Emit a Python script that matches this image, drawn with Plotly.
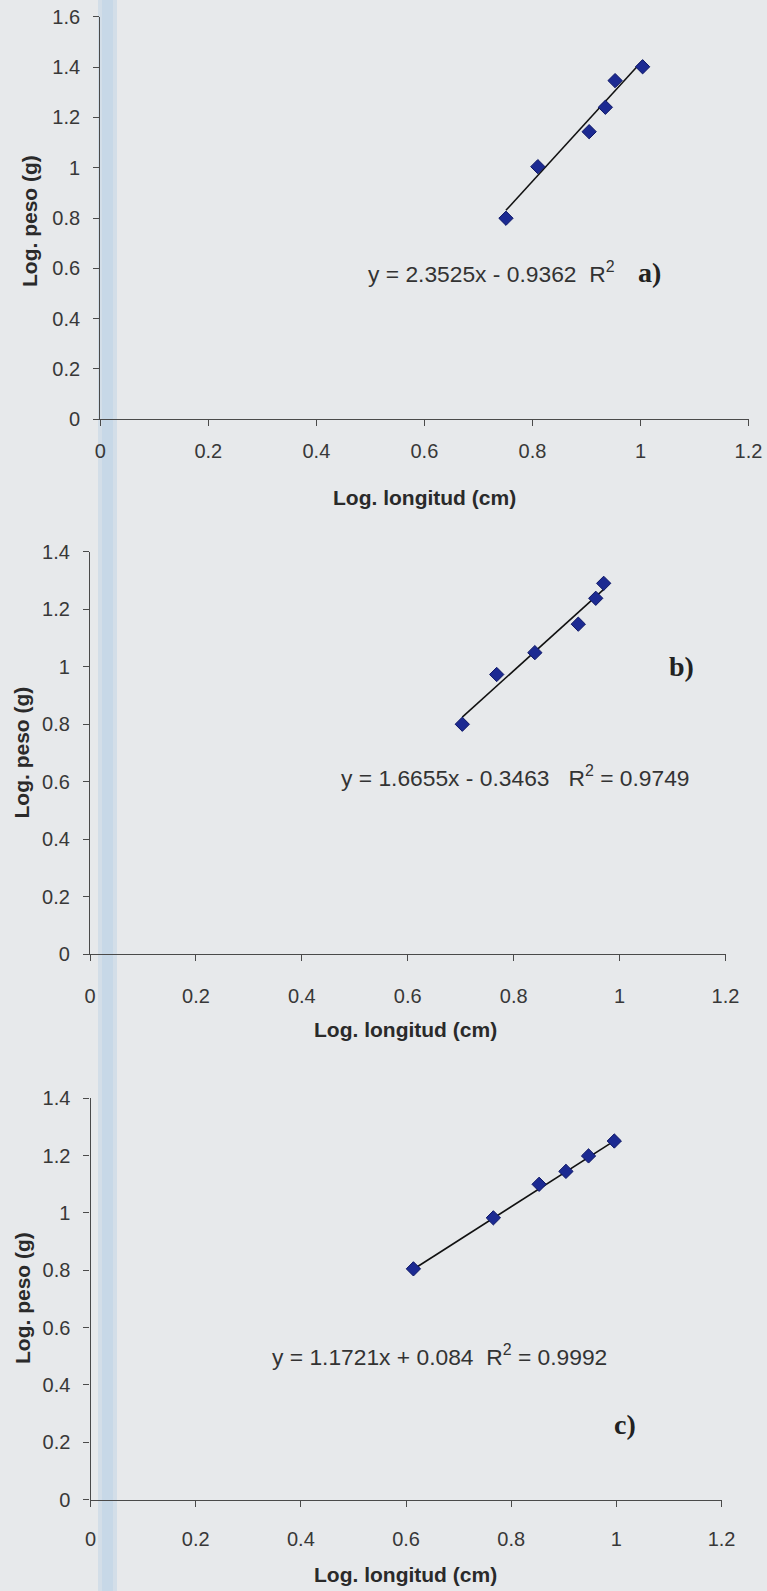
import plotly.graph_objects as go

# ---- data ----
a_x = [0.751, 0.810, 0.905, 0.935, 0.953, 1.004]
a_y = [0.799, 1.004, 1.143, 1.240, 1.346, 1.401]
a_slope, a_intercept = 2.3525, -0.9362
a_eq = "y = 2.3525x - 0.9362\u00a0\u00a0R<sup>2</sup>"

b_x = [0.703, 0.768, 0.840, 0.922, 0.955, 0.970]
b_y = [0.800, 0.973, 1.049, 1.148, 1.238, 1.290]
b_slope, b_intercept = 1.6655, -0.3463
b_eq = "y = 1.6655x - 0.3463\u00a0\u00a0\u00a0R<sup>2</sup> = 0.9749"

c_x = [0.614, 0.766, 0.853, 0.904, 0.947, 0.996]
c_y = [0.805, 0.983, 1.100, 1.145, 1.199, 1.251]
c_slope, c_intercept = 1.1721, 0.084
c_eq = "y = 1.1721x + 0.084\u00a0\u00a0R<sup>2</sup> = 0.9992"

panel_labels = ["a)", "b)", "c)"]
x_title = "Log. longitud (cm)"
y_title = "Log. peso (g)"
y_max = [1.6, 1.4, 1.4]

W, H = 767, 1591
SANS = "Liberation Sans, Arial, sans-serif"
SERIF = "Liberation Serif, Times New Roman, serif"
AXC = "#4a4a4a"
BG = "#e7e9eb"


def px(x):
    return x / W


def py(y):
    return 1 - y / H


fig = go.Figure()

panels = [
    dict(xs=a_x, ys=a_y, m=a_slope, b=a_intercept, eq=a_eq,
         xdom=(100.3, 748.5), ypx=(16.7, 419.3), ymax=y_max[0],
         eqpos=(0.725, 0.585), labpos=(1.016, 0.585),
         ytitle=(30, 221), xtitle=(424.5, 497), standoff=8),
    dict(xs=b_x, ys=b_y, m=b_slope, b=b_intercept, eq=b_eq,
         xdom=(90.0, 725.5), ypx=(551.7, 954.3), ymax=y_max[1],
         eqpos=(0.803, 0.618), labpos=(1.116, 1.0025),
         ytitle=(20.5, 753), xtitle=(406, 1029), standoff=18),
    dict(xs=c_x, ys=c_y, m=c_slope, b=c_intercept, eq=c_eq,
         xdom=(90.5, 721.6), ypx=(1098.3, 1499.6), ymax=y_max[2],
         eqpos=(0.6635, 0.503), labpos=(1.0166, 0.262),
         ytitle=(22, 1298), xtitle=(406, 1574), standoff=15),
]

# background stripe (scan artefact)
fig.add_shape(type="rect", xref="paper", yref="paper",
              x0=px(98), x1=px(117), y0=0, y1=1,
              fillcolor="rgba(180,206,230,0.38)", line_width=0, layer="below")
fig.add_shape(type="rect", xref="paper", yref="paper",
              x0=px(102), x1=px(113), y0=0, y1=1,
              fillcolor="rgba(175,203,230,0.33)", line_width=0, layer="below")

layout = {}
annotations = []
for i, p in enumerate(panels):
    n = "" if i == 0 else str(i + 1)
    xa, ya = "x" + n, "y" + n
    x0, x1 = min(p["xs"]), max(p["xs"])
    fig.add_trace(go.Scatter(x=[x0, x1], y=[p["m"] * x0 + p["b"], p["m"] * x1 + p["b"]],
                             mode="lines", line=dict(color="#111111", width=1.6),
                             xaxis=xa, yaxis=ya, showlegend=False))
    fig.add_trace(go.Scatter(x=p["xs"], y=p["ys"], mode="markers",
                             marker=dict(symbol="diamond", size=11, color="#1c2a92",
                                         line=dict(color="#0e1766", width=1)),
                             xaxis=xa, yaxis=ya, showlegend=False))
    layout["xaxis" + n] = dict(
        domain=[px(p["xdom"][0]), px(p["xdom"][1])], range=[0, 1.2],
        anchor=ya, tickmode="linear", tick0=0, dtick=0.2, automargin=False,
        showgrid=False, zeroline=False, showline=True, linecolor=AXC, linewidth=1.3,
        ticks="outside", ticklen=6, tickcolor=AXC, tickwidth=1.2,
        ticklabelstandoff=p["standoff"],
        tickfont=dict(family=SANS, size=20, color="#383838"))
    layout["yaxis" + n] = dict(
        domain=[py(p["ypx"][1]), py(p["ypx"][0])], range=[0, p["ymax"]],
        anchor=xa, tickmode="linear", tick0=0, dtick=0.2, automargin=False,
        showgrid=False, zeroline=False, showline=True, linecolor=AXC, linewidth=1.3,
        ticks="outside", ticklen=6, tickcolor=AXC, tickwidth=1.2,
        ticklabelstandoff=9,
        tickfont=dict(family=SANS, size=20, color="#383838"))
    common = dict(showarrow=False, xanchor="center", yanchor="middle")
    annotations.append(dict(text=p["eq"], x=p["eqpos"][0], y=p["eqpos"][1],
                            xref=xa, yref=ya,
                            font=dict(family=SANS, size=22.8, color="#333333"), **common))
    annotations.append(dict(text="<b>" + panel_labels[i] + "</b>",
                            x=p["labpos"][0], y=p["labpos"][1],
                            xref=xa, yref=ya,
                            font=dict(family=SERIF, size=28, color="#222222"), **common))
    annotations.append(dict(text="<b>" + y_title + "</b>", textangle=-90,
                            x=px(p["ytitle"][0]), y=py(p["ytitle"][1]),
                            xref="paper", yref="paper",
                            font=dict(family=SANS, size=21, color="#2a2a2a"), **common))
    annotations.append(dict(text="<b>" + x_title + "</b>",
                            x=px(p["xtitle"][0]), y=py(p["xtitle"][1]),
                            xref="paper", yref="paper",
                            font=dict(family=SANS, size=21, color="#2a2a2a"), **common))

fig.update_layout(
    width=W, height=H, margin=dict(l=0, r=0, t=0, b=0, pad=0, autoexpand=False),
    paper_bgcolor=BG, plot_bgcolor="rgba(0,0,0,0)",
    annotations=annotations, **layout)

fig.write_html("out.html")
